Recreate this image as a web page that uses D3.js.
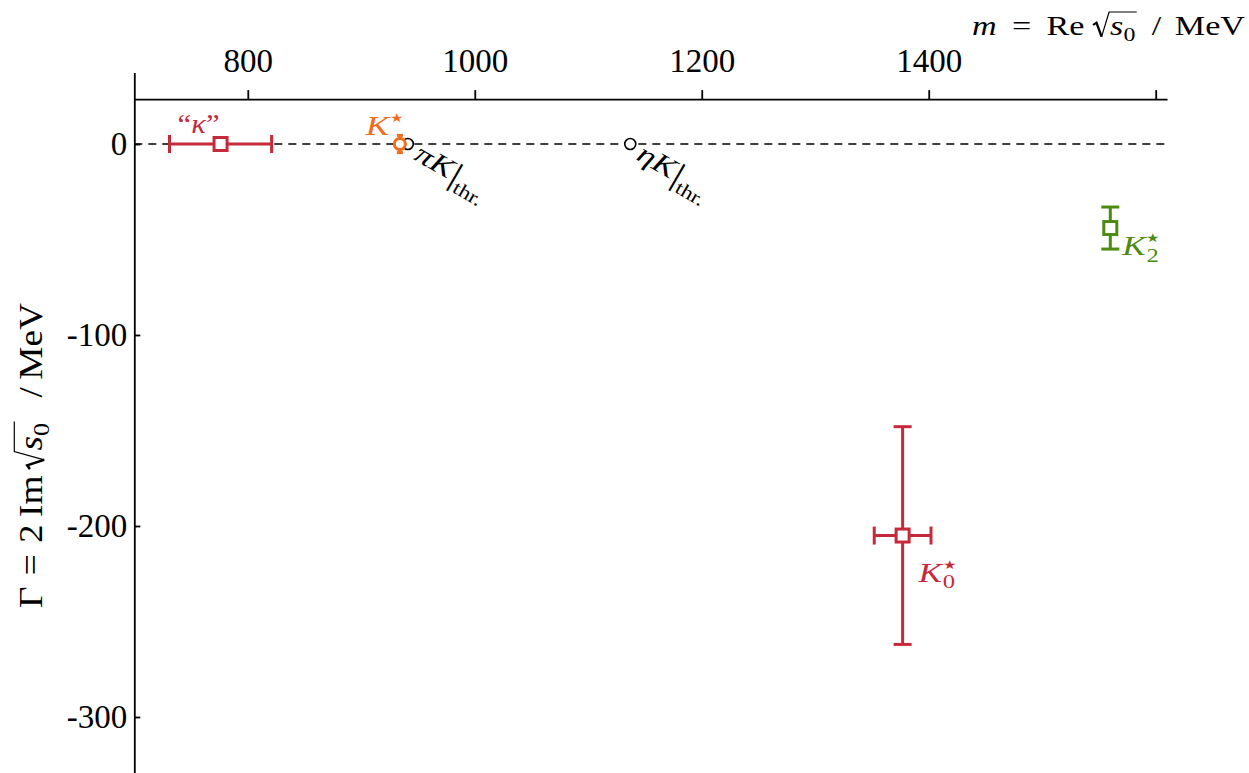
<!DOCTYPE html>
<html>
<head>
<meta charset="utf-8">
<script src="https://cdn.jsdelivr.net/npm/d3@7"></script>
<style>
  body { margin: 0; background: #fff; }
  svg text { font-family: "Liberation Serif", "DejaVu Serif", serif; }
  .axis path, .axis line { stroke: #000; stroke-width: 1.8; }
  .axis text { font-size: 33px; fill: #000; font-family: "Liberation Serif", serif; }
</style>
</head>
<body>
<div class="chart"></div>
<script>
// axis ticks
var xTicks = [800, 1000, 1200, 1400, 1600];
var yTicks = [0, -100, -200, -300];

// resonance poles: mass, mass error, width, width error
var poleNames = ["kappa", "K0star", "K2star"];
var poleMass = [776, 1377, 1560];
var poleMassErr = [45, 25, 0];
var poleWidth = [0, -205, -44];
var poleWidthErr = [0, 57, 11];

// K* bound state
var kstarMass = 934;
var kstarWidth = 0;
var kstarWidthErr = 4.5;

// thresholds
var thrNames = ["\u03c0", "\u03b7"];
var thrMass = [941, 1137];

var svgWidth = 1249, svgHeight = 773;

var svg = d3.select(".chart")
  .append("svg")
  .attr("width", svgWidth)
  .attr("height", svgHeight);

var x = d3.scaleLinear().domain([700, 1600]).range([134.3, 1155.7]);
var y = d3.scaleLinear().domain([0, -300]).range([144, 717]);

var red = "#c62a3a", orange = "#f26b1d", green = "#4d8a13";

// lays out a little formula piece by piece, returns its width
function buildMath(g, f, pieces, color) {
  var cx = 0;
  function txt(p, at) {
    var t = g.append("text")
      .attr("x", at)
      .attr("y", (p.dy || 0) * f)
      .attr("font-size", (p.s || 1) * f)
      .attr("font-style", p.it ? "italic" : null)
      .attr("font-family", p.sym ? "DejaVu Sans" : null)
      .attr("fill", color)
      .attr("xml:space", "preserve")
      .text(p.t);
    return t.node().getComputedTextLength();
  }
  function put(p) {
    cx += (p.gap || 0) * f;
    if (p.sqrt) {
      var r0 = cx;
      cx += 0.5 * f;
      p.sqrt.forEach(put);
      cx += 0.04 * f;
      g.append("path")
        .attr("d", `M${r0},${-0.34 * f} L${r0 + 0.1 * f},${-0.42 * f} L${r0 + 0.25 * f},${0.08 * f}`)
        .attr("stroke", color).attr("stroke-width", f * 0.07).attr("fill", "none");
      g.append("path")
        .attr("d", `M${r0 + 0.25 * f},${0.08 * f} L${r0 + 0.47 * f},${-0.8 * f} L${cx},${-0.8 * f}`)
        .attr("stroke", color).attr("stroke-width", f * 0.035).attr("fill", "none");
      cx += 0.04 * f;
      return;
    }
    if (p.stack) {
      var w = 0;
      p.stack.forEach(q => { w = Math.max(w, txt(q, cx)); });
      cx += w;
      return;
    }
    cx += txt(p, cx);
  }
  pieces.forEach(put);
  return cx;
}

// place a formula so it spans a given width, baseline at (x0, y0)
function fitMath(x0, y0, width, f, pieces, color, rot) {
  var outer = svg.append("g")
    .attr("transform", `translate(${x0}, ${y0})` + (rot ? ` rotate(${rot})` : ""));
  var inner = outer.append("g");
  var w = buildMath(inner, f, pieces, color);
  if (width) inner.attr("transform", `scale(${width / w}, 1)`);
  return outer;
}

// axes cross at (700, 23.5)
var xAxisScale = d3.scaleLinear().domain([700, 1610]).range([x(700), x(1610)]);
var yAxisScale = d3.scaleLinear().domain([37.5, -332]).range([y(37.5), y(-332)]);

svg.append("g")
  .attr("class", "axis")
  .attr("transform", `translate(0, ${y(23.5)})`)
  .call(d3.axisTop(xAxisScale)
    .tickValues(xTicks)
    .tickSize(9)
    .tickSizeOuter(0)
    .tickPadding(18)
    .tickFormat(d => d === 1600 ? "" : d));

svg.append("g")
  .attr("class", "axis")
  .attr("transform", `translate(${x(700)}, 0)`)
  .call(d3.axisLeft(yAxisScale)
    .tickValues(yTicks)
    .tickSize(-6)
    .tickSizeOuter(0)
    .tickPadding(7)
    .tickFormat(d => d));

// Gamma = 0 dashed line
svg.append("line")
  .attr("x1", x(700)).attr("x2", xAxisScale(1610))
  .attr("y1", y(0)).attr("y2", y(0))
  .attr("stroke", "#000")
  .attr("stroke-width", 1.5)
  .attr("stroke-dasharray", "8,6");

// axis titles
fitMath(972, 34.5, 273, 28, [
  {t: "m", it: true},
  {t: "=", gap: 0.45},
  {t: "Re", gap: 0.45},
  {sqrt: [{t: "s", it: true}, {t: "0", s: 0.7, dy: 0.22}], gap: 0.25},
  {t: "/", gap: 0.4},
  {t: "MeV", gap: 0.4}
], "#000");

fitMath(41.5, 608, 305, 34, [
  {t: "\u0393"},
  {t: "=", gap: 0.3},
  {t: "2", gap: 0.3},
  {t: "Im", gap: 0.2},
  {sqrt: [{t: "s", it: true}, {t: "0", s: 0.7, dy: 0.22}], gap: 0.17},
  {t: "/", gap: 0.6},
  {t: "MeV", gap: 0.2}
], "#000", -90);

// thresholds
svg.selectAll(".thr")
  .data(thrMass)
  .enter()
  .append("circle")
  .attr("class", "thr")
  .attr("cx", d => x(d))
  .attr("cy", y(0))
  .attr("r", 5.5)
  .attr("fill", "#fff")
  .attr("stroke", "#000")
  .attr("stroke-width", 1.6);

thrMass.forEach(function(m, i) {
  fitMath(x(m) + 5, y(0) + 15, 80, 28, [
    {t: thrNames[i], it: true},
    {t: "K", it: true},
    {t: "|", s: 1.2, dy: 0.12, gap: 0.04},
    {t: "thr.", s: 0.68, dy: 0.32}
  ], "#000", 30);
});

// resonance poles with error bars
var colors = [red, red, green];
var poles = poleMass.map((m, i) => ({
  name: poleNames[i], m: m, dm: poleMassErr[i], g: poleWidth[i], dg: poleWidthErr[i], c: colors[i]
}));

var cap = 9;
var poleGroup = svg.selectAll(".pole")
  .data(poles)
  .enter()
  .append("g")
  .attr("class", "pole")
  .attr("stroke", d => d.c)
  .attr("stroke-width", 3)
  .attr("fill", "none");

// horizontal bars
poleGroup.filter(d => d.dm > 0).each(function(d) {
  var g = d3.select(this);
  g.append("line").attr("x1", x(d.m - d.dm)).attr("x2", x(d.m + d.dm)).attr("y1", y(d.g)).attr("y2", y(d.g));
  g.append("line").attr("x1", x(d.m - d.dm)).attr("x2", x(d.m - d.dm)).attr("y1", y(d.g) - cap).attr("y2", y(d.g) + cap);
  g.append("line").attr("x1", x(d.m + d.dm)).attr("x2", x(d.m + d.dm)).attr("y1", y(d.g) - cap).attr("y2", y(d.g) + cap);
});
// vertical bars
poleGroup.filter(d => d.dg > 0).each(function(d) {
  var g = d3.select(this);
  g.append("line").attr("x1", x(d.m)).attr("x2", x(d.m)).attr("y1", y(d.g - d.dg)).attr("y2", y(d.g + d.dg));
  g.append("line").attr("x1", x(d.m) - cap).attr("x2", x(d.m) + cap).attr("y1", y(d.g - d.dg)).attr("y2", y(d.g - d.dg));
  g.append("line").attr("x1", x(d.m) - cap).attr("x2", x(d.m) + cap).attr("y1", y(d.g + d.dg)).attr("y2", y(d.g + d.dg));
});
poleGroup.append("rect")
  .attr("x", d => x(d.m) - 6.5)
  .attr("y", d => y(d.g) - 6.5)
  .attr("width", 13)
  .attr("height", 13)
  .attr("fill", "#fff");

// K* bound state
var kg = svg.append("g").attr("stroke", orange).attr("stroke-width", 3).attr("fill", "none");
kg.append("line").attr("x1", x(kstarMass)).attr("x2", x(kstarMass))
  .attr("y1", y(kstarWidth + kstarWidthErr)).attr("y2", y(kstarWidth - kstarWidthErr));
kg.append("line").attr("x1", x(kstarMass) - 3).attr("x2", x(kstarMass) + 3)
  .attr("y1", y(kstarWidth + kstarWidthErr)).attr("y2", y(kstarWidth + kstarWidthErr));
kg.append("line").attr("x1", x(kstarMass) - 3).attr("x2", x(kstarMass) + 3)
  .attr("y1", y(kstarWidth - kstarWidthErr)).attr("y2", y(kstarWidth - kstarWidthErr));
kg.append("circle").attr("cx", x(kstarMass)).attr("cy", y(kstarWidth)).attr("r", 5.5).attr("fill", "#fff");

// labels
fitMath(x(poleMass[0]) - 43, y(0) - 11, 42, 28, [
  {t: "\u201c"}, {t: "\u03ba", it: true}, {t: "\u201d"}
], red);

function kLabel(px, py, color, sub) {
  var st = [{t: "\u2605", s: 0.42, dy: -0.45, sym: true}];
  if (sub) st.push({t: sub, s: 0.7, dy: 0.24});
  return fitMath(px, py, 38, 28, [{t: "K", it: true}, {stack: st, gap: 0.02}], color);
}
kLabel(x(kstarMass) - 34, y(0) - 9, orange, null);
kLabel(x(poleMass[1]) + 16, y(poleWidth[1]) + 46, red, "0");
kLabel(x(poleMass[2]) + 12, y(poleWidth[2]) + 27, green, "2");
</script>
</body>
</html>
